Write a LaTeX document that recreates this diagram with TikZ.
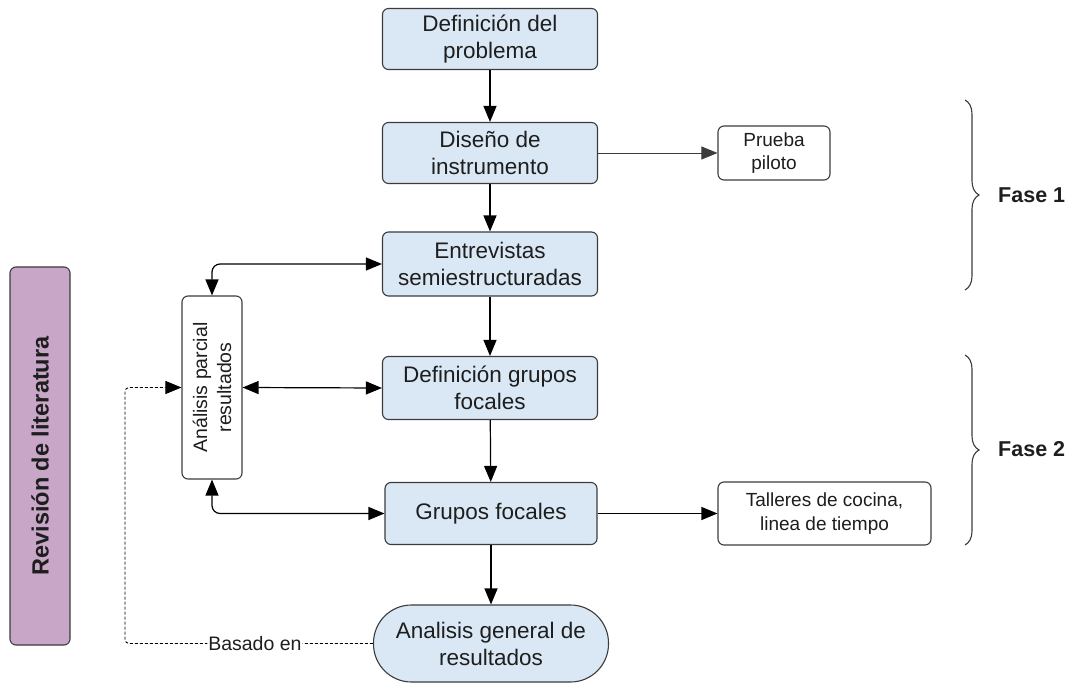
\documentclass[tikz,border=0pt]{standalone}
\usepackage{fontspec}
\setmainfont{Liberation Sans}
\usetikzlibrary{arrows.meta,decorations.pathreplacing}
\definecolor{boxblue}{RGB}{218,232,246}
\definecolor{boxpurple}{RGB}{200,166,200}
\definecolor{edge}{RGB}{60,60,60}
\definecolor{ink}{RGB}{30,30,30}
\begin{document}
\begin{tikzpicture}[x=1pt,y=-1pt,
  every node/.style={text=ink},
  mainbox/.style={draw=edge, line width=1.1pt, fill=boxblue, rounded corners=6pt, minimum width=215pt, minimum height=61pt, align=center, inner sep=0pt, font=\fontsize{22.5}{27}\selectfont},
  sidebox/.style={draw=edge, line width=1.1pt, fill=white, rounded corners=6pt, align=center, inner sep=0pt, font=\fontsize{19}{23.5}\selectfont},
  arr/.style={draw=black, line width=1.2pt, -{Triangle[length=16pt,width=13pt]}},
  darr/.style={draw=black, line width=1.2pt, {Triangle[length=16pt,width=13pt]}-{Triangle[length=16pt,width=13pt]}},
  bracestyle/.style={draw=edge, line width=1.1pt, decorate, decoration={brace, amplitude=14pt, aspect=0.5}},
  faselabel/.style={anchor=west, font=\fontsize{21.5}{26}\selectfont\bfseries, inner sep=0pt}
]
\useasboundingbox (0,0) rectangle (1073,684);

% main flow
\node[mainbox] (b1) at (490,39) {Definición del\\problema};
\node[mainbox] (b2) at (490,153) {Diseño de\\instrumento};
\node[mainbox, minimum height=64pt] (b3) at (490,264) {Entrevistas\\semiestructuradas};
\node[mainbox, minimum height=63pt] (b4) at (490,388) {Definición grupos\\focales};
\node[mainbox, minimum width=212pt, minimum height=62pt] (b5) at (491,513.5) {Grupos focales};
\node[mainbox, rounded corners=38pt, minimum width=235pt, minimum height=77pt] (t) at (491,643.5) {Analisis general de\\resultados};

% side boxes
\node[sidebox, minimum width=112pt, minimum height=54pt] (pp) at (774,153) {Prueba\\piloto};
\node[sidebox, minimum width=213pt, minimum height=63pt] (tl) at (824.5,513.5) {Talleres de cocina,\\linea de tiempo};
\node[sidebox, rotate=90, minimum width=183pt, minimum height=60pt, font=\fontsize{19.5}{24}\selectfont] (ap) at (212,387.5) {Análisis parcial\\resultados};
\node[draw=edge, line width=1.1pt, fill=boxpurple, rounded corners=6pt, rotate=90, minimum width=378pt, minimum height=60pt, inner sep=0pt, font=\fontsize{23.5}{28}\selectfont\bfseries] (rl) at (40,456) {Revisión de literatura};

% vertical arrows
\draw[arr] (b1) -- (b2);
\draw[arr] (b2) -- (b3);
\draw[arr] (b3) -- (b4);
\draw[arr] (b4) -- (b5);
\draw[arr] (b5) -- (t);

% side arrows
\draw[arr, draw=edge, line width=0.7pt] (b2) -- (pp);
\draw[arr] (b5) -- (tl);

% feedback with partial analysis (rotated node: east=top, west=bottom, south=right, north=left)
\draw[darr, rounded corners=8pt] (ap.east) |- (b3.west);
\draw[darr] (ap.south) -- (b4.west);
\draw[darr, rounded corners=8pt] (ap.west) |- (b5.west);

% dashed "Basado en"
\coordinate (dc) at (125,643.5);
\draw[line width=0.9pt, dash pattern=on 3pt off 2pt, rounded corners=4pt, -{Triangle[length=16pt,width=13pt]}]
  (t.west) -- node[pos=0.476, fill=white, inner sep=1pt, font=\fontsize{19.5}{24}\selectfont] (be) {Basado en} (dc) |- (ap.north);

% braces
\draw[bracestyle] (965,100) -- (965,290);
\draw[bracestyle] (965,355) -- (965,545);
\node[faselabel] (f1) at (998,195) {Fase 1};
\node[faselabel] (f2) at (998,449) {Fase 2};
\end{tikzpicture}
\end{document}
